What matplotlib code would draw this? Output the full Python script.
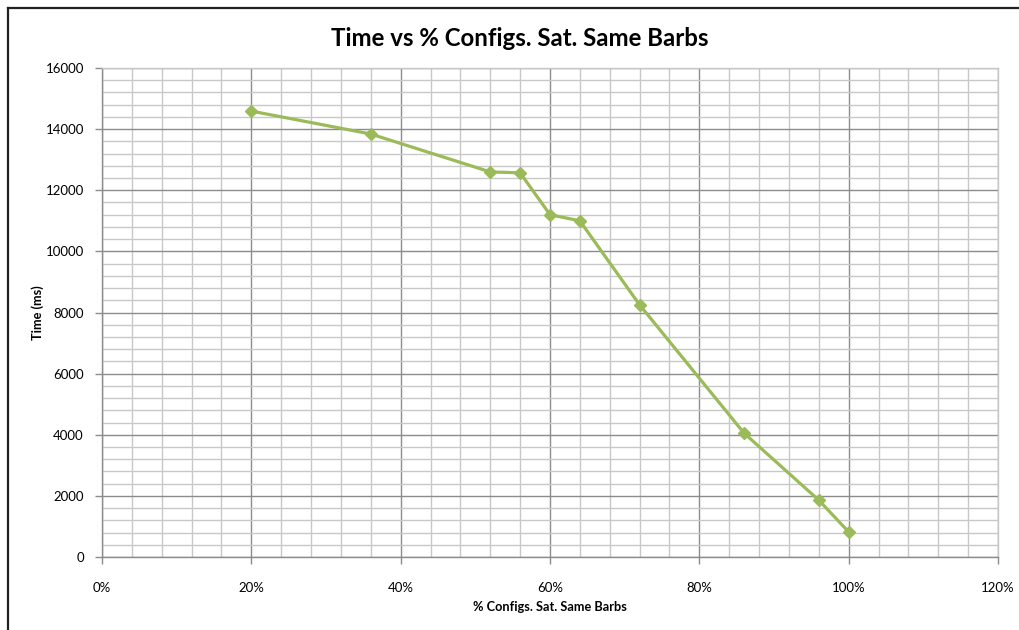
import matplotlib
matplotlib.use("Agg")
import matplotlib.pyplot as plt
from matplotlib.lines import Line2D
from matplotlib.ticker import MultipleLocator, FuncFormatter

# --- Data ---
pct_configs = [20, 36, 52, 56, 60, 64, 72, 86, 96, 100]   # % configs sat. same barbs
time_ms = [14590, 13840, 12600, 12570, 11200, 11000, 8250, 4050, 1860, 820]

LINE_COLOR = '#9BBB59'   # Excel olive green
MAJOR_GRID = '#8c8c8c'
MINOR_GRID = '#c8c8c8'

plt.rcParams['font.family'] = ['Lato', 'DejaVu Sans']

fig = plt.figure(figsize=(10.19, 6.30), dpi=100)
ax = fig.add_axes([102 / 1019, 1 - 557 / 630, (998 - 102) / 1019, (557 - 68) / 630])

ax.plot(pct_configs, time_ms, color=LINE_COLOR, linewidth=2.3,
        marker='D', markersize=6, markerfacecolor=LINE_COLOR,
        markeredgecolor=LINE_COLOR, zorder=3)

ax.set_xlim(0, 120)
ax.set_ylim(0, 16000)

ax.xaxis.set_major_locator(MultipleLocator(20))
ax.xaxis.set_minor_locator(MultipleLocator(4))
ax.yaxis.set_major_locator(MultipleLocator(2000))
ax.yaxis.set_minor_locator(MultipleLocator(400))
ax.xaxis.set_major_formatter(FuncFormatter(lambda v, p: f'{v:.0f}%'))

ax.grid(which='major', color=MAJOR_GRID, linewidth=1.0)
ax.grid(which='minor', color=MINOR_GRID, linewidth=1.0)
ax.set_axisbelow(True)

for side, sp in ax.spines.items():
    sp.set_color(MAJOR_GRID if side in ('left', 'bottom') else MINOR_GRID)
    sp.set_linewidth(1.0)

ax.tick_params(which='major', length=5, width=1, color=MAJOR_GRID,
               labelsize=9.5, pad=8)
ax.tick_params(which='minor', length=0)
ax.tick_params(axis='x', pad=13)

ax.set_xlabel('% Configs. Sat. Same Barbs', fontsize=9.2, fontweight='bold', labelpad=5)
ax.set_ylabel('Time (ms)', fontsize=9.2, fontweight='bold', labelpad=1)

fig.text(520 / 1019, 1 - 38 / 630, 'Time vs % Configs. Sat. Same Barbs',
         ha='center', va='center', fontsize=17.3, fontweight='bold')

# chart frame (only left and top edges fall inside the picture)
fig.add_artist(Line2D([8 / 1019, 8 / 1019], [0, 1 - 8 / 630], color='#222222', linewidth=1.6))
fig.add_artist(Line2D([8 / 1019, 1], [1 - 8 / 630, 1 - 8 / 630], color='#222222', linewidth=1.6))

plt.savefig('out.png', dpi=100)
plt.close()
